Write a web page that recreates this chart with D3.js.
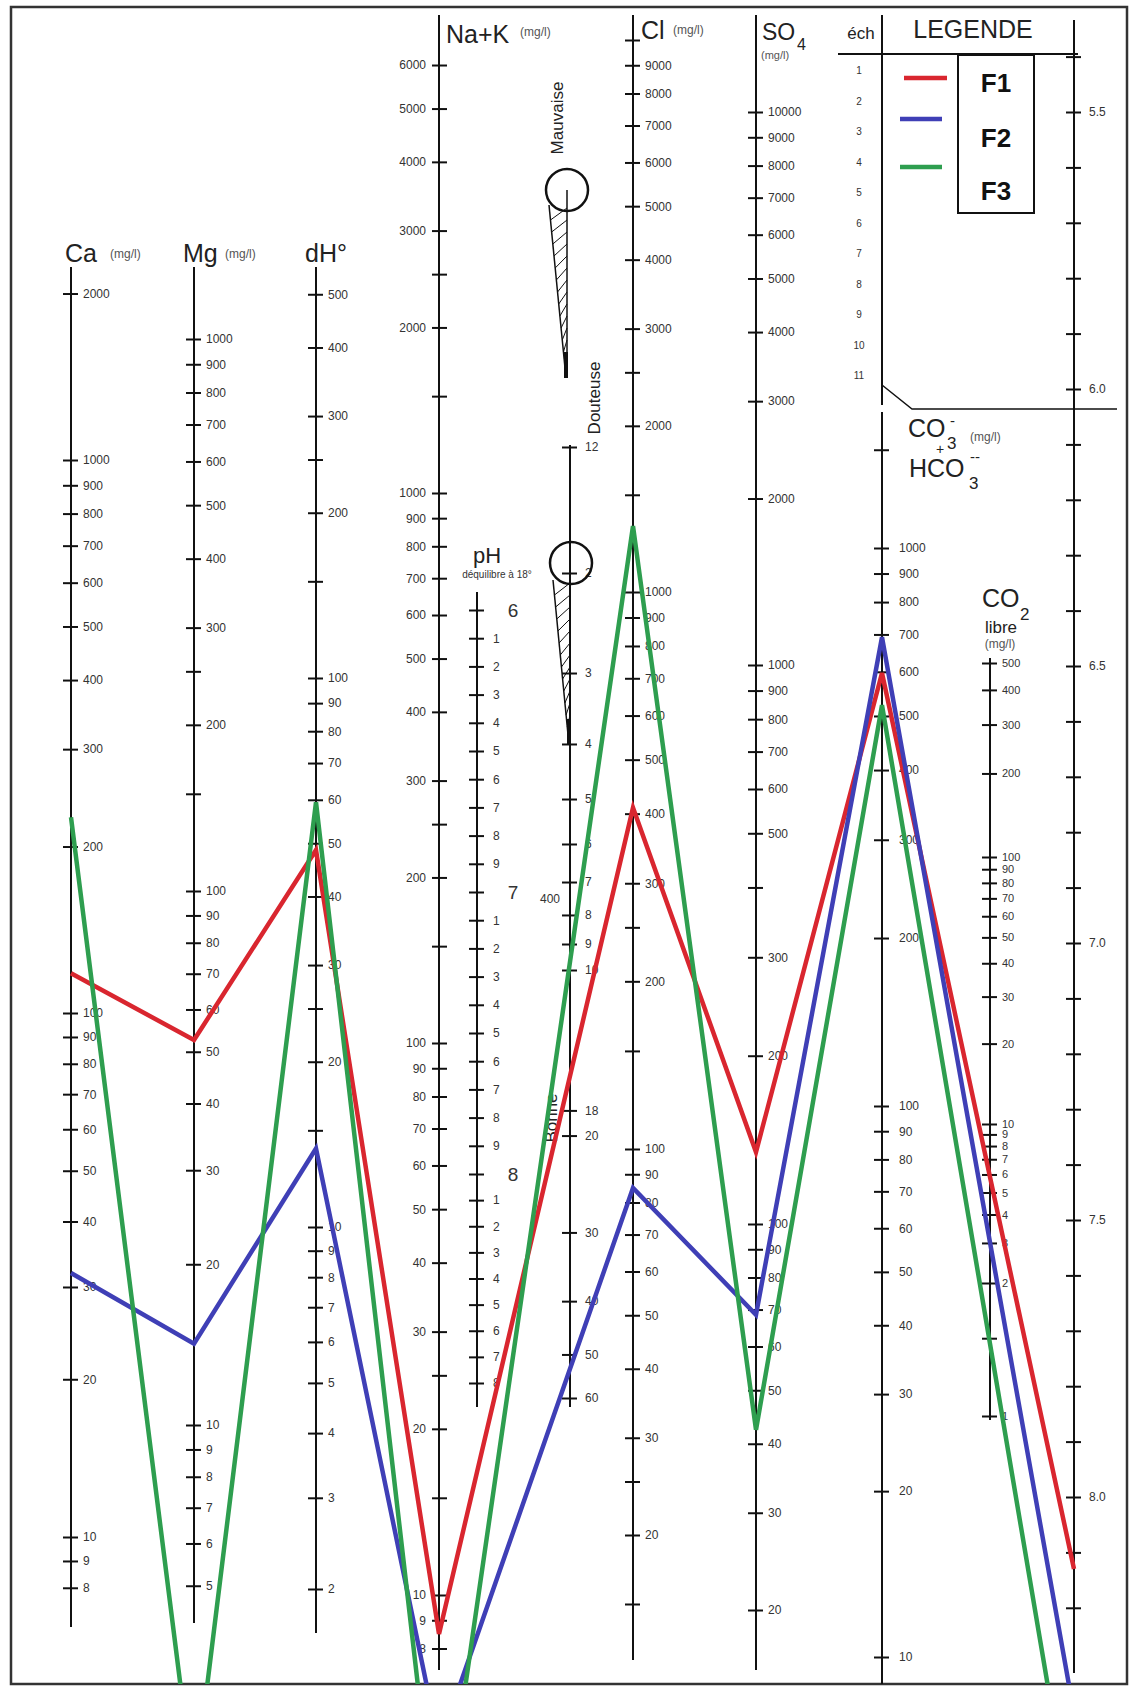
<!DOCTYPE html>
<html>
<head>
<meta charset="utf-8">
<script src="https://cdn.jsdelivr.net/npm/d3@7"></script>
<style>
  body { margin: 0; background: #fff; }
  svg text { font-family: "Liberation Sans", Arial, sans-serif; }
</style>
</head>
<body>
<div id="chart"></div>
<script>
// ---- data (mg/l, pH) ----
const ions = ["Ca", "Mg", "dH", "NaK", "Cl", "SO4", "HCO3", "pH"];
const samples = ["F1", "F2", "F3"];
const sampleColors = ["#d9262f", "#3f3fb6", "#2e9e4f"];
const f1 = [118, 52.6, 48.6, 8.5, 410, 134.5, 597, 8.13];
const f2 = [31.9, 14.2, 13.9, 5.35, 85, 68.5, 692, 8.39];
const f3 = [226, 2.05, 59.4, 3.2, 1317, 42.4, 523, 8.62];

// tick values for each scale
const caTicks = [2000, 1000, 900, 800, 700, 600, 500, 400, 300, 200, 100, 90, 80, 70, 60, 50, 40, 30, 20, 10, 9, 8];
const mgTicks = [1000, 900, 800, 700, 600, 500, 400, 300, 200, 100, 90, 80, 70, 60, 50, 40, 30, 20, 10, 9, 8, 7, 6, 5];
const mgMinor = [250, 150];
const dhTicks = [500, 400, 300, 200, 100, 90, 80, 70, 60, 50, 40, 30, 20, 10, 9, 8, 7, 6, 5, 4, 3, 2];
const dhMinor = [250, 150, 25, 15];
const nakTicks = [6000, 5000, 4000, 3000, 2000, 1000, 900, 800, 700, 600, 500, 400, 300, 200, 100, 90, 80, 70, 60, 50, 40, 30, 20, 10, 9, 8];
const nakMinor = [2500, 1500, 250, 150, 25, 15];
const clTicks = [9000, 8000, 7000, 6000, 5000, 4000, 3000, 2000, 1000, 900, 800, 700, 600, 500, 400, 300, 200, 100, 90, 80, 70, 60, 50, 40, 30, 20];
const clMinor = [10000, 2500, 1500, 250, 150, 25, 15];
const so4Ticks = [10000, 9000, 8000, 7000, 6000, 5000, 4000, 3000, 2000, 1000, 900, 800, 700, 600, 500, 300, 200, 100, 90, 80, 70, 60, 50, 40, 30, 20];
const so4Minor = [400];
const hco3Ticks = [1000, 900, 800, 700, 600, 500, 400, 300, 200, 100, 90, 80, 70, 60, 50, 40, 30, 20, 10];
const hco3Minor = [1500];
const co2Ticks = [500, 400, 300, 200, 100, 90, 80, 70, 60, 50, 40, 30, 20, 10, 9, 8, 7, 6, 5, 4, 3, 2, 1];
const co2Minor = [1.5];
const qualTicks = [1.2, 2, 3, 4, 5, 6, 7, 8, 9, 10, 18, 20, 30, 40, 50, 60];
const qualLabels = ["12", "2", "3", "4", "5", "6", "7", "8", "9", "10", "18", "20", "30", "40", "50", "60"];
const phEqTicks = d3.range(60, 89).map(d => d / 10);
const phEqMajor = ["6", "7", "8"];
const phTicks = d3.range(54, 83).map(d => d / 10);
const phLabels = ["5.5", "6.0", "6.5", "7.0", "7.5", "8.0"];
const echLabels = ["1", "2", "3", "4", "5", "6", "7", "8", "9", "10", "11"];

const W = 1129, H = 1686;
const svg = d3.select("#chart").append("svg").attr("width", W).attr("height", H);

// scales (log scales are piecewise to follow the printed graduations)
const yCa = d3.scaleLog().domain([10, 100, 1000]).range([1537, 1013, 460]);
const yMg = d3.scaleLog().domain([10, 100, 1000]).range([1425, 891, 339]);
const yDh = d3.scaleLog().domain([2, 10, 100]).range([1589, 1227, 678]);
const yNak = d3.scaleLog().domain([10, 100, 1000]).range([1595, 1043, 493]);
const yCl = d3.scaleLog().domain([20, 100, 1000, 10000]).range([1535, 1149, 592, 40]);
const ySo4 = d3.scaleLog().domain([20, 100, 1000, 10000]).range([1610, 1224, 665, 112]);
const yHco3 = d3.scaleLog().domain([10, 100, 1000]).range([1657, 1106, 548]);
const yCo2 = d3.scaleLog().domain([1, 2, 10, 100, 500]).range([1416, 1283, 1124, 857, 663]);
const yQual = d3.scaleLog().domain([2, 10, 60]).range([573, 970, 1398]);
const yPhEq = d3.scaleLinear().domain([6, 7, 8, 8.8]).range([610, 892, 1174, 1383]);
const yPh = d3.scaleLinear().domain([5.5, 8]).range([112, 1497]);

const ionAxes = [
  { x: 71, y: yCa }, { x: 194, y: yMg }, { x: 316, y: yDh }, { x: 439, y: yNak },
  { x: 633, y: yCl }, { x: 756, y: ySo4 }, { x: 882, y: yHco3 }, { x: 1074, y: yPh }
];

// frame
svg.append("rect").attr("x", 11).attr("y", 7).attr("width", 1116).attr("height", 1677)
  .attr("fill", "none").attr("stroke", "#333").attr("stroke-width", 2.5);

function drawAxis(o) {
  const g = svg.append("g").attr("transform", `translate(${o.x},0)`);
  g.append("line").attr("y1", o.top).attr("y2", o.bottom)
    .attr("stroke", "#111").attr("stroke-width", 2);
  const fmt = o.format || (d => String(d));
  const ax = (o.left ? d3.axisLeft(o.scale) : d3.axisRight(o.scale))
    .tickValues(o.ticks).tickFormat(fmt).tickSizeInner(7).tickSizeOuter(0).tickPadding(o.pad || 5);
  const ga = g.append("g").call(ax);
  ga.select(".domain").remove();
  ga.selectAll(".tick line").attr("x1", o.left ? 8 : -8).attr("stroke", "#111").attr("stroke-width", 2);
  ga.selectAll(".tick text").attr("font-size", o.fs || 12).attr("fill", "#333")
    .attr("font-family", "Liberation Sans, Arial, sans-serif");
  if (o.minor) {
    const gm = g.append("g").call((o.left ? d3.axisLeft(o.scale) : d3.axisRight(o.scale))
      .tickValues(o.minor).tickFormat("").tickSizeInner(7).tickSizeOuter(0));
    gm.select(".domain").remove();
    gm.selectAll(".tick line").attr("x1", o.left ? 8 : -8).attr("stroke", "#111").attr("stroke-width", 2);
  }
  return g;
}

drawAxis({ x: 71, top: 267, bottom: 1627, scale: yCa, ticks: caTicks });
drawAxis({ x: 194, top: 267, bottom: 1623, scale: yMg, ticks: mgTicks, minor: mgMinor });
drawAxis({ x: 316, top: 267, bottom: 1633, scale: yDh, ticks: dhTicks, minor: dhMinor });
drawAxis({ x: 439, top: 15, bottom: 1670, scale: yNak, ticks: nakTicks, minor: nakMinor, left: true, pad: 6 });
drawAxis({ x: 633, top: 15, bottom: 1660, scale: yCl, ticks: clTicks, minor: clMinor });
drawAxis({ x: 756, top: 15, bottom: 1670, scale: ySo4, ticks: so4Ticks, minor: so4Minor });
drawAxis({ x: 882, top: 412, bottom: 1684, scale: yHco3, ticks: hco3Ticks, minor: hco3Minor, pad: 10 });
drawAxis({ x: 990, top: 658, bottom: 1420, scale: yCo2, ticks: co2Ticks, minor: co2Minor, fs: 11 });
drawAxis({ x: 1074, top: 20, bottom: 1673, scale: yPh, ticks: phTicks, pad: 8,
  format: d => { const s = d3.format(".1f")(d); return phLabels.includes(s) ? s : ""; } });
drawAxis({ x: 570, top: 445, bottom: 1407, scale: yQual, ticks: qualTicks, pad: 8,
  format: (d, i) => qualLabels[i] });
drawAxis({ x: 477, top: 592, bottom: 1407, scale: yPhEq, ticks: phEqTicks, pad: 9,
  format: d => { const t = Math.round(d * 10) % 10; return t === 0 ? "" : String(t); } });

// big pH units beside the pH d'equilibre scale
svg.append("g").selectAll("text").data(phEqMajor).join("text")
  .attr("x", 513).attr("y", d => yPhEq(+d) + 7).attr("text-anchor", "middle")
  .attr("font-size", 19).attr("fill", "#333").text(d => d);

// echelle column + legend frame
svg.append("line").attr("x1", 882).attr("x2", 882).attr("y1", 15).attr("y2", 405)
  .attr("stroke", "#111").attr("stroke-width", 2);
svg.append("line").attr("x1", 838).attr("x2", 1078).attr("y1", 54).attr("y2", 54)
  .attr("stroke", "#111").attr("stroke-width", 2);
svg.append("path").attr("d", "M882,385L912,409L1117,409").attr("fill", "none")
  .attr("stroke", "#111").attr("stroke-width", 1.5);
const yEch = d3.scalePoint().domain(echLabels).range([70, 375]);
svg.append("g").selectAll("text").data(echLabels).join("text")
  .attr("x", 859).attr("y", d => yEch(d) + 4).attr("text-anchor", "middle")
  .attr("font-size", 10).attr("fill", "#333").text(d => d);

// titles
function label(x, y, t, size, anchor, fill) {
  return svg.append("text").attr("x", x).attr("y", y).attr("font-size", size)
    .attr("text-anchor", anchor || "start").attr("fill", fill || "#222").text(t);
}
label(65, 262, "Ca", 25);
label(110, 258, "(mg/l)", 12, "start", "#555");
label(183, 262, "Mg", 25);
label(225, 258, "(mg/l)", 12, "start", "#555");
label(305, 262, "dH°", 25);
label(446, 43, "Na+K", 25);
label(520, 36, "(mg/l)", 12, "start", "#555");
label(641, 39, "Cl", 25);
label(673, 34, "(mg/l)", 12, "start", "#555");
label(762, 40, "SO", 23);
label(797, 50, "4", 16);
label(761, 59, "(mg/l)", 11, "start", "#555");
label(861, 39, "éch", 17, "middle");
label(973, 38, "LEGENDE", 25, "middle");
label(908, 437, "CO", 25);
label(950, 426, "-", 15);
label(947, 449, "3", 17);
label(970, 441, "(mg/l)", 12, "start", "#555");
label(936, 454, "+", 14);
label(909, 477, "HCO", 25);
label(969, 489, "3", 17);
label(970, 462, "--", 15);
label(982, 607, "CO", 25);
label(1020, 620, "2", 17);
label(1001, 633, "libre", 17, "middle");
label(1000, 648, "(mg/l)", 12, "middle", "#555");
label(487, 563, "pH", 22, "middle");
label(497, 578, "déquilibre à 18°", 10, "middle", "#333");
label(560, 903, "400", 12, "end", "#333");

// potability nomogram marks
function rotLabel(x, y, t) {
  svg.append("text").attr("transform", `translate(${x},${y}) rotate(-90)`)
    .attr("text-anchor", "middle").attr("font-size", 17).attr("fill", "#222").text(t);
}
rotLabel(563, 118, "Mauvaise");
rotLabel(600, 398, "Douteuse");
rotLabel(557, 1118, "Bonne");

function wedge(cx, cy, xl0, yl0, xr, yEnd) {
  const g = svg.append("g").attr("stroke", "#111").attr("fill", "none");
  g.append("line").attr("x1", xl0).attr("y1", yl0).attr("x2", xr - 1).attr("y2", yEnd).attr("stroke-width", 1.5);
  g.append("line").attr("x1", xr).attr("y1", cy).attr("x2", xr).attr("y2", yEnd).attr("stroke-width", 1.5);
  const hy = d3.range(yl0 + 6, yEnd - 24, 12);
  const xAt = y => xl0 + (y - yl0) * (xr - 1 - xl0) / (yEnd - yl0);
  g.selectAll(".h").data(hy).join("line")
    .attr("x1", y => xAt(y + 9)).attr("y1", y => y + 9)
    .attr("x2", xr).attr("y2", y => y - 3).attr("stroke-width", 1);
  g.append("line").attr("x1", xr - 1).attr("x2", xr - 1).attr("y1", yEnd - 26).attr("y2", yEnd).attr("stroke-width", 4);
  g.append("circle").attr("cx", cx).attr("cy", cy).attr("r", 21).attr("fill", "none").attr("stroke-width", 2.5);
}
wedge(567, 190, 549, 205, 567, 378);
wedge(571, 563, 553, 580, 570, 745);

// legend
const legY = [78, 119, 167];
const legX = [[904, 947], [900, 942], [900, 942]];
svg.append("g").selectAll("line").data(samples).join("line")
  .attr("x1", (d, i) => legX[i][0]).attr("x2", (d, i) => legX[i][1])
  .attr("y1", (d, i) => legY[i]).attr("y2", (d, i) => legY[i])
  .attr("stroke", (d, i) => sampleColors[i]).attr("stroke-width", 4.5);
svg.append("rect").attr("x", 958).attr("y", 55).attr("width", 76).attr("height", 158)
  .attr("fill", "#fff").attr("stroke", "#111").attr("stroke-width", 2);
svg.append("g").selectAll("text").data(samples).join("text")
  .attr("x", 996).attr("y", (d, i) => [92, 147, 200][i]).attr("text-anchor", "middle")
  .attr("font-family", "Liberation Serif, Times New Roman, serif").attr("font-weight", "bold")
  .attr("font-size", 26).attr("fill", "#111").text(d => d);

// sample polylines
svg.append("clipPath").attr("id", "frame").append("rect")
  .attr("x", 11).attr("y", 7).attr("width", 1116).attr("height", 1677);
const line = d3.line().x(d => d.x).y(d => d.y);
const series = [f1, f2, f3].map(vals => vals.map((v, i) => ({ x: ionAxes[i].x, y: ionAxes[i].y(v) })));
svg.append("g").attr("clip-path", "url(#frame)")
  .selectAll("path").data(series).join("path")
  .attr("d", line).attr("fill", "none")
  .attr("stroke", (d, i) => sampleColors[i]).attr("stroke-width", 4.5)
  .attr("stroke-linejoin", "miter");
</script>
</body>
</html>
